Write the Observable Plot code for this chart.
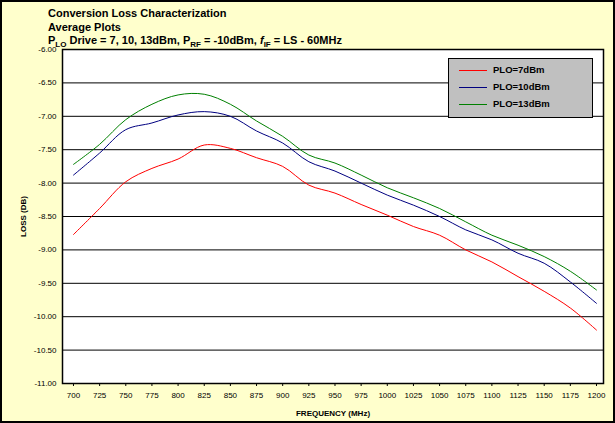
<!DOCTYPE html>
<html><head><meta charset="utf-8">
<script src="https://cdn.jsdelivr.net/npm/d3@7"></script>
<script src="https://cdn.jsdelivr.net/npm/@observablehq/plot@0.6"></script>
<style>
body{margin:0;background:#fff;font-family:Arial,"Liberation Sans",sans-serif}
#wrap{position:relative;width:615px;height:423px}
#title{position:absolute;left:48px;top:7px;font-weight:bold;font-size:11px;line-height:13.5px;color:#000}
#legend{position:absolute;left:448px;top:58px;width:143px;height:58px;background:#c0c0c0;border:1px solid #000;font-size:9.5px;font-weight:bold}
#legend div{position:absolute;left:10px;height:16px;line-height:16px}
#legend span{display:inline-block;width:28px;height:0;border-top:1px solid;vertical-align:middle;margin-right:6px}
</style></head><body>
<div id="wrap"><div id="graph"></div>
<div id="title">Conversion Loss Characterization<br>Average Plots<br><span>P<sub style="font-size:8px">LO</sub> Drive = 7, 10, 13dBm, P<sub style="font-size:8px">RF</sub> = -10dBm, <i>f</i><sub style="font-size:8px">IF</sub> = LS - 60MHz</span></div>
<div id="legend"></div>
</div>
<script>
const freq = [700,725,750,775,800,825,850,875,900,925,950,975,1000,1025,1050,1075,1100,1125,1150,1175,1200];
const plo7 = [-8.77,-8.38,-7.98,-7.78,-7.64,-7.43,-7.48,-7.62,-7.75,-8.03,-8.15,-8.32,-8.48,-8.65,-8.78,-9.0,-9.18,-9.4,-9.62,-9.87,-10.2];
const plo10 = [-7.88,-7.55,-7.2,-7.1,-6.98,-6.93,-7.0,-7.22,-7.4,-7.68,-7.82,-8.0,-8.18,-8.33,-8.5,-8.7,-8.85,-9.05,-9.2,-9.48,-9.8];
const plo13 = [-7.72,-7.42,-7.05,-6.82,-6.68,-6.67,-6.82,-7.07,-7.3,-7.58,-7.7,-7.88,-8.07,-8.22,-8.38,-8.58,-8.78,-8.93,-9.1,-9.32,-9.6];
const seriesNames = ["PLO=7dBm","PLO=10dBm","PLO=13dBm"];
const colors = ["#ff0000","#000080","#008000"];
const yTicks = d3.range(0,11).map(i => -6 - i*0.5);

const rows = [];
[plo7,plo10,plo13].forEach((s,k) => s.forEach((v,i) => rows.push({f:freq[i], loss:v, name:seriesNames[k]})));

const chart = Plot.plot({
  width: 615, height: 423,
  marginLeft: 62, marginTop: 49, marginRight: 12, marginBottom: 40,
  style: {background:"#ffffcc", fontFamily:"Arial, 'Liberation Sans', sans-serif", fontSize:"8px", color:"#000"},
  x: {domain:[689.5,1206.7], ticks:freq, tickFormat:d3.format("d"), tickSize:3, label:"FREQUENCY (MHz)", labelArrow:"none", labelAnchor:"center", labelOffset:32, tickPadding:6},
  y: {domain:[-11,-6], ticks:yTicks, tickFormat:d => d.toFixed(2), tickSize:0, label:"LOSS (DB)", labelArrow:"none", labelAnchor:"center", labelOffset:42, tickPadding:6},
  color: {domain:seriesNames, range:colors},
  marks: [
    Plot.frame({fill:"#fff"}),
    Plot.ruleY(yTicks, {stroke:"#000", strokeWidth:1}),
    Plot.line(rows, {x:"f", y:"loss", z:"name", stroke:"name", strokeWidth:1, curve:"catmull-rom"}),
    Plot.frame({stroke:"#000", strokeWidth:1.5})
  ]
});
chart.querySelectorAll("g[aria-label='x-axis label'], g[aria-label='y-axis label']").forEach(e => e.setAttribute("font-weight","bold"));
document.getElementById("graph").append(chart);
d3.select(chart).append("rect").attr("x",1).attr("y",1).attr("width",613).attr("height",421).attr("fill","none").attr("stroke","#000").attr("stroke-width",2);

const leg = document.getElementById("legend");
seriesNames.forEach((n,i) => {
  const d = document.createElement("div");
  d.style.top = (3 + i*17) + "px";
  d.innerHTML = `<span style="border-color:${colors[i]}"></span>${n}`;
  leg.append(d);
});
</script>
</body></html>
